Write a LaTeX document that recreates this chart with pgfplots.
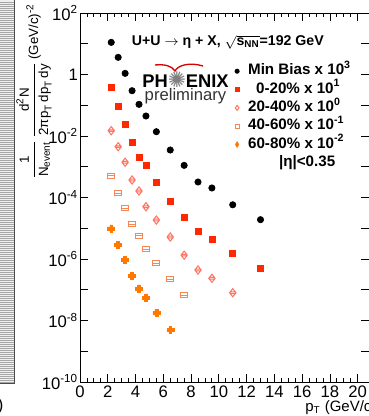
\documentclass[border=0pt]{standalone}
\usepackage{pgfplots}
\pgfplotsset{compat=1.18}
\usepackage{amsmath}
\usepackage{fontspec}
\setmainfont{Liberation Sans}
\newfontfamily\djv{DejaVu Sans}

\definecolor{cMB}{RGB}{0,0,0}
\definecolor{cA}{RGB}{255,40,0}
\definecolor{cB}{RGB}{255,115,95}
\definecolor{cC}{RGB}{245,135,85}
\definecolor{cD}{RGB}{255,120,0}

\newcommand\tp[1]{10\textsuperscript{#1}}

\pgfdeclareplotmark{dbar}{%
  \pgfpathmoveto{\pgfqpoint{0pt}{1.3\pgfplotmarksize}}%
  \pgfpathlineto{\pgfqpoint{\pgfplotmarksize}{0pt}}%
  \pgfpathlineto{\pgfqpoint{0pt}{-1.3\pgfplotmarksize}}%
  \pgfpathlineto{\pgfqpoint{-\pgfplotmarksize}{0pt}}%
  \pgfpathclose
  \pgfpathrectangle{\pgfqpoint{-0.8\pgfplotmarksize}{-0.25\pgfplotmarksize}}{\pgfqpoint{1.6\pgfplotmarksize}{0.5\pgfplotmarksize}}%
  \pgfusepathqstroke}
\pgfdeclareplotmark{rbar}{%
  \pgfpathrectangle{\pgfqpoint{-\pgfplotmarksize}{-0.7\pgfplotmarksize}}{\pgfqpoint{2\pgfplotmarksize}{1.4\pgfplotmarksize}}%
  \pgfpathmoveto{\pgfqpoint{-\pgfplotmarksize}{0pt}}%
  \pgfpathlineto{\pgfqpoint{\pgfplotmarksize}{0pt}}%
  \pgfusepathqstroke}
\pgfdeclareplotmark{fcross}{%
  \pgfpathmoveto{\pgfqpoint{-0.42\pgfplotmarksize}{\pgfplotmarksize}}%
  \pgfpathlineto{\pgfqpoint{0.42\pgfplotmarksize}{\pgfplotmarksize}}%
  \pgfpathlineto{\pgfqpoint{0.42\pgfplotmarksize}{0.42\pgfplotmarksize}}%
  \pgfpathlineto{\pgfqpoint{\pgfplotmarksize}{0.42\pgfplotmarksize}}%
  \pgfpathlineto{\pgfqpoint{\pgfplotmarksize}{-0.42\pgfplotmarksize}}%
  \pgfpathlineto{\pgfqpoint{0.42\pgfplotmarksize}{-0.42\pgfplotmarksize}}%
  \pgfpathlineto{\pgfqpoint{0.42\pgfplotmarksize}{-\pgfplotmarksize}}%
  \pgfpathlineto{\pgfqpoint{-0.42\pgfplotmarksize}{-\pgfplotmarksize}}%
  \pgfpathlineto{\pgfqpoint{-0.42\pgfplotmarksize}{-0.42\pgfplotmarksize}}%
  \pgfpathlineto{\pgfqpoint{-\pgfplotmarksize}{-0.42\pgfplotmarksize}}%
  \pgfpathlineto{\pgfqpoint{-\pgfplotmarksize}{0.42\pgfplotmarksize}}%
  \pgfpathlineto{\pgfqpoint{-0.42\pgfplotmarksize}{0.42\pgfplotmarksize}}%
  \pgfpathclose
  \pgfusepathqfillstroke}
\pgfdeclareplotmark{vdiam}{%
  \pgfpathmoveto{\pgfqpoint{0pt}{1.4\pgfplotmarksize}}%
  \pgfpathlineto{\pgfqpoint{0.8\pgfplotmarksize}{0pt}}%
  \pgfpathlineto{\pgfqpoint{0pt}{-1.4\pgfplotmarksize}}%
  \pgfpathlineto{\pgfqpoint{-0.8\pgfplotmarksize}{0pt}}%
  \pgfpathclose
  \pgfusepathqfillstroke}

\begin{document}
\begin{tikzpicture}
\begin{axis}[
  at={(48pt,20.4pt)}, anchor=south west,
  scale only axis, width=173.7pt, height=221.4pt,
  xmin=0, xmax=20.85,
  ymode=log, ymin=1e-10, ymax=1e2,
  xtick={0,2,...,20}, minor x tick num=3,
  ytick={1e-10,1e-9,1e-8,1e-7,1e-6,1e-5,1e-4,1e-3,1e-2,1e-1,1,10,100},
  yticklabels={\tp{-10},,\tp{-8},,\tp{-6},,\tp{-4},,\tp{-2},,1,,\tp{2}},
  yminorticks=false,
  major tick length=5pt, minor tick length=2.6pt,
  tick style={black, line width=0.5pt},
  axis line style={line width=0.5pt},
  /pgf/number format/assume math mode=true,
  ticklabel style={font=\fontsize{10}{12}\selectfont},
  yticklabel style={inner sep=1pt},
  xticklabel style={inner sep=2pt},
  legend style={draw=none, fill=none, at={(axis cs:11.1,2.23)}, anchor=north west,
    font=\bfseries\fontsize{9.1}{10}\selectfont, inner sep=0pt, row sep=2.5pt,
    nodes={inner sep=0pt, text height=6.5pt, text depth=2pt, anchor=west},
    /tikz/every odd column/.append style={column sep=5pt}},
  legend cell align=left,
]
\addplot[only marks, mark=*, mark size=1.9pt, cMB,
  legend image code/.code={\path[draw=none,fill=none] (-1.6pt,-1.6pt) rectangle (1.6pt,1.6pt); \draw[only marks, mark=*, mark size=1.3pt, cMB] plot coordinates {(0pt,0pt)};}]
coordinates {(2.25,11.1)(2.75,3.62)(3.25,1.09)(3.75,0.297)(4.25,0.107)(4.75,0.0447)(5.5,0.0138)(6.5,3.5e-3)(7.5,1.11e-3)(8.5,3.19e-4)(9.5,2.04e-4)(11,5.8e-5)(13,1.9e-5)};
\addlegendentry{Min Bias x 10\textsuperscript{3}}
\addplot[only marks, mark=square*, mark size=1.8pt, cA,
  legend image code/.code={\path[draw=none,fill=none] (-1.6pt,-1.6pt) rectangle (1.6pt,1.6pt); \draw[only marks, mark=square*, mark size=1.2pt, cA] plot coordinates {(0pt,0pt)};}]
coordinates {(2.25,0.372)(2.75,0.0946)(3.25,0.0245)(3.75,6.24e-3)(4.25,2.03e-3)(4.75,1.08e-3)(5.5,3.12e-4)(6.5,7.69e-5)(7.5,2.32e-5)(8.5,7.73e-6)(9.5,4.38e-6)(11,1.53e-6)(13,5.09e-7)};
\addlegendentry{\hspace*{4.8pt}0-20\% x 10\textsuperscript{1}}
\addplot[only marks, mark=dbar, mark size=1.9pt, cB, mark options={line width=0.6pt},
  legend image code/.code={\path[draw=none,fill=none] (-1.6pt,-1.6pt) rectangle (1.6pt,1.6pt); \draw[only marks, mark=diamond, mark size=1.5pt, cB, line width=0.5pt] plot coordinates {(0pt,0pt)};}]
coordinates {(2.25,1.49e-2)(2.75,4.49e-3)(3.25,1.40e-3)(3.75,3.71e-4)(4.25,1.63e-4)(4.75,5.02e-5)(5.5,1.85e-5)(6.5,5.19e-6)(7.5,1.33e-6)(8.5,4.39e-7)(9.5,2.36e-7)(11,8.0e-8)};
\addlegendentry{20-40\% x 10\textsuperscript{0}}
\addplot[only marks, mark=rbar, mark size=2.1pt, cC, mark options={line width=0.6pt},
  legend image code/.code={\path[draw=none,fill=none] (-1.6pt,-1.6pt) rectangle (1.6pt,1.6pt); \draw[only marks, mark=square, mark size=1.2pt, cC, line width=0.5pt] plot coordinates {(0pt,0pt)};}]
coordinates {(2.25,5.12e-4)(2.75,1.37e-4)(3.25,4.46e-5)(3.75,1.36e-5)(4.25,5.6e-6)(4.75,2.11e-6)(5.5,7.24e-7)(6.5,2.19e-7)(7.5,6.75e-8)};
\addlegendentry{40-60\% x 10\textsuperscript{-1}}
\addplot[only marks, mark=fcross, mark size=2.1pt, cD, mark options={line width=0.3pt},
  legend image code/.code={\path[draw=none,fill=none] (-1.6pt,-1.6pt) rectangle (1.6pt,1.6pt); \draw[only marks, mark=vdiam, mark size=1.3pt, cD, line width=0.3pt] plot coordinates {(0pt,0pt)};}]
coordinates {(2.25,9.95e-6)(2.75,2.96e-6)(3.25,9.27e-7)(3.75,2.80e-7)(4.25,1.10e-7)(4.75,5.60e-8)(5.5,1.79e-8)(6.5,4.91e-9)};
\addlegendentry{60-80\% x 10\textsuperscript{-2}}
\addlegendimage{empty legend}
\addlegendentry{\hspace*{18.6pt}|η|<0.35}
\end{axis}
% decorative fragment at left edge
\fill[gray!12] (-1pt,19.8pt) rectangle (8.4pt,260pt);
\foreach \yy in {20.4,21.6,...,249.6} \draw[gray!70, line width=0.35pt] (-1pt,\yy pt) -- (8.4pt,\yy pt);
\draw[black!70, line width=0.5pt] (8.4pt,260pt) -- (8.4pt,19.8pt) -- (-1pt,19.8pt);
\node[anchor=west, inner sep=0pt, font=\fontsize{10}{12}\selectfont] at (-1.5pt,6pt) {)};
% y label
\node[rotate=90, inner sep=0pt, font=\fontsize{8}{9}\selectfont] at (20.4pt,194.7pt)
  {$\dfrac{\text{1}}{\text{N}_{\text{event}}}\,\dfrac{\text{d}^{\text{2}}\text{N}}{\text{2πp}_{\text{T}}\,\text{dp}_{\text{T}}\,\text{dy}}$\,(GeV/c)\textsuperscript{-2}};
% x label
\node[anchor=base west, inner sep=0pt, font=\fontsize{9}{11}\selectfont] at (183pt,2.6pt) {p\textsubscript{T} (GeV/c)};
% title
\node[inner sep=0pt, font=\bfseries\fontsize{8.5}{10}\selectfont] at (136.7pt,224.4pt)
  {U+U $\rightarrow$ η + X, $\sqrt{\text{s}_{\text{NN}}}$=192 GeV};
% PHENIX logo
\node[inner sep=0pt, font=\bfseries\fontsize{11}{13}\selectfont] at (111.3pt,201.6pt)
  {PH{\djv\mdseries\color{gray}\fontsize{13}{13}\selectfont ✺}ENIX};
\node[inner sep=0pt, font=\fontsize{10}{12}\selectfont, text=black!80] at (111.3pt,192pt) {preliminary};
\draw[red!85!black, line width=0.8pt] (93pt,210.6pt) .. controls (99pt,211.2pt) and (103.2pt,210pt) .. (105pt,207pt)
  .. controls (106.8pt,210.6pt) and (114pt,212.4pt) .. (121.8pt,210pt);
\pgfresetboundingbox
\path[use as bounding box] (0pt,0pt) rectangle (221.4pt,249.6pt);
\end{tikzpicture}
\end{document}
